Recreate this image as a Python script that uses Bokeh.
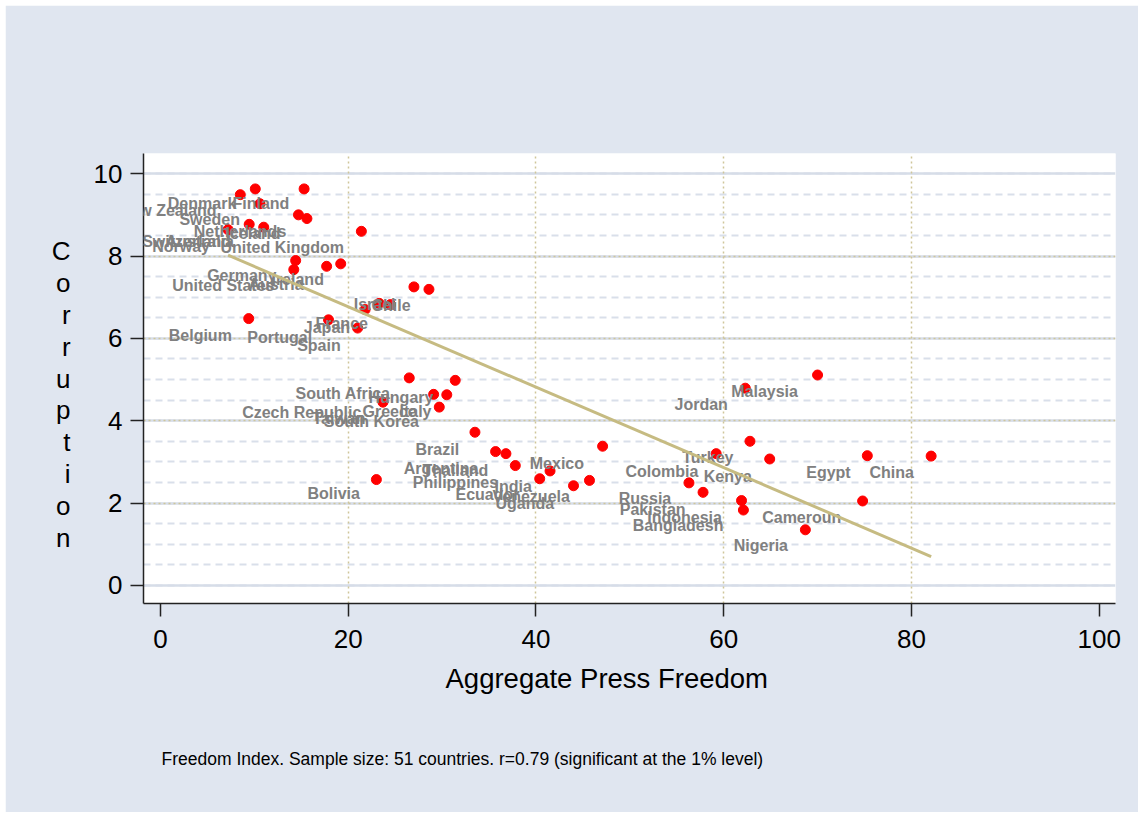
import numpy as np
from bokeh.plotting import figure
from bokeh.models import (ColumnDataSource, Range1d, SingleIntervalTicker, FixedTicker,
                          Grid, LabelSet, Title)
from bokeh.core.properties import value
from bokeh.embed import file_html
from bokeh.resources import INLINE

# ---- data ----
press = [8.5, 10.1, 15.3, 10.6, 14.7, 15.6, 9.45, 11.0, 7.2, 21.4,
         14.4, 14.2, 17.7, 19.2, 27.0, 28.6, 21.8, 23.3, 24.5, 9.4,
         17.9, 21.0, 26.5, 31.4, 30.5, 29.1, 29.7, 23.7, 33.5, 35.7,
         36.8, 37.8, 40.4, 41.5, 44.0, 45.7, 47.1, 23.0, 70.0, 62.3,
         62.8, 59.2, 64.9, 75.3, 82.1, 56.3, 57.8, 61.9, 62.1, 74.8, 68.7]
corruption = [9.49, 9.63, 9.63, 9.27, 9.0, 8.91, 8.77, 8.70, 8.64, 8.60,
              7.89, 7.67, 7.75, 7.81, 7.25, 7.19, 6.70, 6.85, 6.82, 6.48,
              6.45, 6.25, 5.04, 4.98, 4.63, 4.64, 4.33, 4.45, 3.72, 3.25,
              3.20, 2.91, 2.59, 2.78, 2.42, 2.55, 3.38, 2.57, 5.11, 4.79,
              3.50, 3.20, 3.07, 3.15, 3.14, 2.49, 2.26, 2.06, 1.83, 2.05, 1.35]

countries = ["New Zealand", "Denmark", "Finland", "Sweden", "Netherlands", "Iceland",
             "Switzerland", "Australia", "Norway", "United Kingdom", "Germany", "Ireland",
             "United States", "Austria", "Israel", "Chile", "France", "Japan", "Belgium",
             "Portugal", "Spain", "South Africa", "Hungary", "Czech Republic", "Greece",
             "Italy", "South Korea", "Taiwan", "Brazil", "Argentina", "Thailand",
             "Philippines", "India", "Ecuador", "Venezuela", "Uganda", "Mexico", "Bolivia",
             "Malaysia", "Jordan", "Turkey", "Colombia", "Kenya", "Egypt", "China",
             "Russia", "Pakistan", "Indonesia", "Bangladesh", "Cameroun", "Nigeria"]
label_x = [-4.44, 0.78, 7.67, 2.02, 3.55, 6.92, -1.95, 0.53, -0.88, 6.39, 4.97, 11.82,
           1.25, 9.37, 20.59, 22.48, 16.51, 15.27, 0.88, 9.24, 14.56, 14.38, 22.16, 8.70,
           21.52, 25.46, 17.40, 16.19, 27.17, 25.92, 27.91, 26.88, 35.58, 31.43, 35.37,
           35.69, 39.34, 15.66, 60.80, 54.76, 55.58, 49.54, 57.88, 68.79, 75.53, 48.82,
           48.93, 51.85, 50.31, 64.10, 61.07]
label_y = [9.11, 9.27, 9.27, 8.88, 8.59, 8.55, 8.36, 8.36, 8.22, 8.20, 7.52, 7.44,
           7.28, 7.31, 6.83, 6.79, 6.37, 6.27, 6.07, 6.03, 5.83, 4.66, 4.57, 4.19,
           4.23, 4.23, 3.97, 4.06, 3.30, 2.83, 2.79, 2.49, 2.39, 2.20, 2.17, 1.98,
           2.97, 2.23, 4.70, 4.39, 3.10, 2.77, 2.65, 2.74, 2.74, 2.11, 1.85, 1.66,
           1.45, 1.66, 0.97]

x_ticks_interval = 20
y_ticks_interval = 2
x_title = "Aggregate Press Freedom"
y_title = "Corruption"
note = "Freedom Index. Sample size: 51 countries. r=0.79 (significant at the 1% level)"

W, H = 1133, 807
BG = "#E0E6F0"
FONT = "Liberation Sans"

p = figure(width=W, height=H, output_backend="svg", toolbar_location=None,
           x_range=Range1d(-1.81, 101.74), y_range=Range1d(-0.44, 10.49),
           min_border_left=138, min_border_right=23, min_border_top=148,
           min_border_bottom=209, background_fill_color="white",
           border_fill_color=BG, outline_line_color=None)
p.margin = (5, 5, 3, 5)

# axes
p.xaxis.ticker = SingleIntervalTicker(interval=x_ticks_interval, num_minor_ticks=0)
p.yaxis.ticker = SingleIntervalTicker(interval=y_ticks_interval, num_minor_ticks=4)
for ax in (p.xaxis, p.yaxis):
    ax.axis_line_color = "#222222"
    ax.axis_line_width = 1.5
    ax.major_tick_line_color = "#222222"
    ax.major_tick_line_width = 1.5
    ax.major_tick_in = 0
    ax.major_tick_out = 13
    ax.minor_tick_line_color = None
    ax.major_label_text_font = FONT
    ax.major_label_text_font_size = "26px"
    ax.major_label_text_color = "black"
p.xaxis.major_label_standoff = 13
p.yaxis.major_label_standoff = 8

# stacked y title
p.yaxis.axis_label = "\n" + "\n".join(y_title)
p.yaxis.axis_label_orientation = "horizontal"
p.yaxis.axis_label_text_font = FONT
p.yaxis.axis_label_text_font_size = "26px"
p.yaxis.axis_label_text_font_style = "normal"
p.yaxis.axis_label_text_color = "black"
p.yaxis.axis_label_text_line_height = 1.06
p.yaxis.axis_label_standoff = 20

# x title and note as titles below
p.add_layout(Title(text=x_title, align="left", offset=302, standoff=21,
                   text_font=FONT, text_font_size="27.5px", text_font_style="normal",
                   text_color="black"), "below")
p.add_layout(Title(text=note, align="left", offset=18, standoff=84,
                   text_font=FONT, text_font_size="17.5px", text_font_style="normal",
                   text_color="black"), "below")

# grids
p.xgrid.grid_line_color = None
p.ygrid.grid_line_color = "#D6DDE8"
p.ygrid.grid_line_width = 2.5
p.ygrid.minor_grid_line_color = "#D9DFEA"
p.ygrid.minor_grid_line_width = 2
p.ygrid.minor_grid_line_dash = "7 5"
p.add_layout(Grid(dimension=0, ticker=FixedTicker(ticks=[20, 40, 60, 80]),
                  grid_line_color="#CFC69A", grid_line_dash="2 3", grid_line_width=1.5))
p.add_layout(Grid(dimension=1, ticker=FixedTicker(ticks=[2, 4, 6, 8]),
                  grid_line_color="#CFC69A", grid_line_dash="2 3", grid_line_width=1.5))

# points
src = ColumnDataSource(dict(x=press, y=corruption))
p.scatter("x", "y", source=src, size=10, color="#FF0000", line_color="#FF0000")

# labels
lsrc = ColumnDataSource(dict(x=label_x, y=label_y, t=countries))
p.add_layout(LabelSet(x="x", y="y", text="t", source=lsrc, text_font=value(FONT),
                      text_font_style="bold", text_font_size="16px",
                      text_color="#808080", text_align="left", text_baseline="middle"))

# fitted line
xa = np.array(press)
ya = np.array(corruption)
b, a = np.polyfit(xa, ya, 1)
xs = np.array([xa.min(), xa.max()])
p.line(xs, a + b * xs, line_color="#C6BB82", line_width=3, level="overlay")

open("out.html", "w").write(file_html(p, INLINE))
